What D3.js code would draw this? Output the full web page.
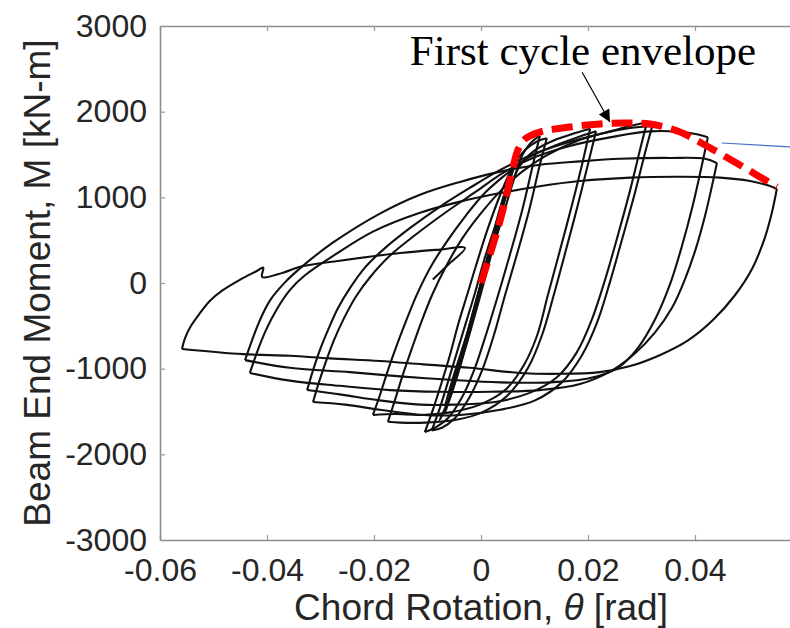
<!DOCTYPE html>
<html>
<head>
<meta charset="utf-8">
<script src="https://cdn.jsdelivr.net/npm/d3@7"></script>
<style>
  html, body { margin: 0; padding: 0; background: #fff; }
  svg { display: block; }
</style>
</head>
<body>
<div id="chart"></div>
<script>
// chord rotation [rad], beam end moment [kN-m]

const xTicks = [-0.06, -0.04, -0.02, 0, 0.02, 0.04];
const yTicks = [-3000, -2000, -1000, 0, 1000, 2000, 3000];

// small elastic cycles
const elasticA = [[0,0],[0.0021,500],[0.0041,970],[0.0058,1320],[0.0045,1030],[0.0024,560],[0.0004,40],[-0.0021,-490],[-0.0043,-960],[-0.0058,-1310],[-0.0039,-900],[-0.0019,-430],[0,0]];
const elasticB = [[0,0],[0.0026,600],[0.0050,1140],[0.0069,1490],[0.0054,1200],[0.0030,640],[0.0007,130],[-0.0017,-410],[-0.0039,-880],[-0.0067,-1420],[-0.0049,-1040],[-0.0024,-550],[0,0]];
const elasticC = [[0,0],[0.0017,390],[0.0036,830],[0.0054,1230],[0.0065,1440],[0.0050,1110],[0.0030,600],[0.0009,90],[-0.0009,-320],[-0.0030,-780],[-0.0052,-1230],[-0.0077,-1600],[-0.0054,-1270],[-0.0034,-810],[-0.0015,-370],[0,0]];
const elasticD = [[0,0],[0.0015,360],[0.0034,790],[0.0049,1140],[0.0036,880],[0.0017,430],[-0.0002,-80],[-0.0021,-550],[-0.0037,-920],[-0.0054,-1270],[-0.0067,-1510],[-0.0047,-1130],[-0.0028,-690],[-0.0009,-260],[0,0]];

// half cycles, in loading order
const push1 = [[0,0],[0.0032,600],[0.0058,1140],[0.0077,1490],[0.0092,1630],[0.0110,1720]];
const pull1 = [[0.0110,1720],[0.0097,1380],[0.0077,850],[0.0054,330],[0.0032,-140],[0.0009,-610],[-0.0013,-1020],[-0.0036,-1340],[-0.0062,-1580],[-0.0086,-1690],[-0.0105,-1740]];
const push2 = [[-0.0105,-1740],[-0.0090,-1480],[-0.0075,-1190],[-0.0058,-840],[-0.0043,-490],[-0.0026,-140],[-0.0007,250],[0.0013,640],[0.0036,1030],[0.0058,1340],[0.0082,1550],[0.0107,1660],[0.0123,1690]];
const pull2 = [[0.0123,1690],[0.0110,1380],[0.0090,850],[0.0067,330],[0.0045,-140],[0.0024,-610],[0.0002,-1020],[-0.0022,-1340],[-0.0049,-1580],[-0.0073,-1690],[-0.0092,-1720]];
const push3 = [[-0.0092,-1720],[-0.0077,-1460],[-0.0062,-1160],[-0.0045,-810],[-0.0028,-460],[-0.0011,-110],[0.0007,290],[0.0028,690],[0.0050,1060],[0.0073,1370],[0.0101,1550],[0.0138,1670],[0.0176,1750],[0.0204,1800]];
const pull3 = [[0.0204,1800],[0.0191,1440],[0.0170,910],[0.0148,390],[0.0125,-140],[0.0105,-610],[0.0080,-960],[0.0045,-1250],[-0.0002,-1420],[-0.0058,-1510],[-0.0114,-1540],[-0.0161,-1530],[-0.0202,-1540]];
const push4 = [[-0.0202,-1540],[-0.0189,-1310],[-0.0174,-1020],[-0.0157,-720],[-0.0138,-410],[-0.0118,-110],[-0.0092,210],[-0.0062,500],[-0.0028,790],[0.0007,1050],[0.0045,1260],[0.0082,1440],[0.0129,1580],[0.0176,1690],[0.0215,1770]];
const pull4 = [[0.0215,1770],[0.0202,1440],[0.0181,910],[0.0159,390],[0.0136,-140],[0.0114,-610],[0.0088,-990],[0.0050,-1310],[0.0002,-1510],[-0.0049,-1600],[-0.0105,-1630],[-0.0151,-1630],[-0.0174,-1620]];
const push5 = [[-0.0174,-1620],[-0.0161,-1370],[-0.0146,-1070],[-0.0129,-760],[-0.0110,-430],[-0.0090,-120],[-0.0064,210],[-0.0034,530],[0.0002,830],[0.0039,1090],[0.0077,1300],[0.0120,1480],[0.0176,1650],[0.0241,1770],[0.0297,1860],[0.0310,1870]];
const pull5 = [[0.0310,1870],[0.0297,1550],[0.0279,1090],[0.0256,560],[0.0232,40],[0.0207,-430],[0.0179,-810],[0.0142,-1100],[0.0092,-1280],[0.0026,-1390],[-0.0049,-1420],[-0.0114,-1420],[-0.0189,-1370],[-0.0264,-1300],[-0.0325,-1250]];
const push6 = [[-0.0325,-1250],[-0.0314,-1020],[-0.0301,-780],[-0.0286,-550],[-0.0267,-290],[-0.0245,-60],[-0.0217,180],[-0.0179,410],[-0.0133,640],[-0.0077,890],[-0.0021,1110],[0.0036,1320],[0.0092,1490],[0.0157,1630],[0.0222,1740],[0.0279,1810],[0.0320,1830]];
const pull6 = [[0.0320,1830],[0.0307,1530],[0.0288,1060],[0.0265,540],[0.0241,10],[0.0217,-460],[0.0189,-840],[0.0151,-1160],[0.0101,-1370],[0.0036,-1480],[-0.0039,-1540],[-0.0108,-1540],[-0.0189,-1480],[-0.0254,-1420],[-0.0314,-1390]];
const push7 = [[-0.0314,-1390],[-0.0303,-1160],[-0.0290,-920],[-0.0275,-670],[-0.0256,-410],[-0.0234,-160],[-0.0207,70],[-0.0170,320],[-0.0123,560],[-0.0067,820],[-0.0011,1060],[0.0045,1300],[0.0101,1470],[0.0166,1600],[0.0241,1700],[0.0316,1770],[0.0391,1750],[0.0424,1700]];
const pull7 = [[0.0424,1700],[0.0413,1380],[0.0396,910],[0.0376,440],[0.0353,-20],[0.0325,-430],[0.0293,-760],[0.0256,-990],[0.0204,-1110],[0.0129,-1160],[0.0036,-1160],[-0.0058,-1130],[-0.0151,-1090],[-0.0245,-1040],[-0.0357,-990],[-0.0441,-900]];
const push8 = [[-0.0441,-900],[-0.0428,-670],[-0.0413,-430],[-0.0394,-200],[-0.0366,10],[-0.0333,200],[-0.0277,470],[-0.0189,810],[-0.0114,1030],[-0.0039,1180],[0.0036,1300],[0.0110,1380],[0.0185,1420],[0.0260,1450],[0.0353,1460],[0.0419,1450],[0.0441,1400]];
const pull8 = [[0.0441,1400],[0.0432,1140],[0.0419,790],[0.0402,410],[0.0381,40],[0.0357,-290],[0.0325,-580],[0.0288,-820],[0.0245,-1020],[0.0185,-1180],[0.0110,-1250],[0.0017,-1270],[-0.0077,-1270],[-0.0170,-1250],[-0.0264,-1200],[-0.0357,-1140],[-0.0432,-1050]];
const push9 = [[-0.0432,-1050],[-0.0417,-780],[-0.0402,-550],[-0.0383,-320],[-0.0357,-80],[-0.0329,90],[-0.0273,330],[-0.0202,600],[-0.0114,820],[-0.0039,950],[0.0036,1050],[0.0110,1130],[0.0185,1190],[0.0279,1230],[0.0372,1240],[0.0447,1230],[0.0503,1190],[0.0536,1140],[0.0553,1100]];
const pull9 = [[0.0553,1100],[0.0544,830],[0.0529,500],[0.0507,170],[0.0475,-140],[0.0434,-430],[0.0387,-670],[0.0335,-840],[0.0279,-970],[0.0222,-1040],[0.0148,-1060],[0.0073,-1050],[-0.0021,-990],[-0.0108,-950],[-0.0189,-910],[-0.0282,-880],[-0.0357,-850],[-0.0445,-830],[-0.0559,-770]];
const finalPush = [[-0.0559,-770],[-0.0553,-640],[-0.0542,-500],[-0.0525,-350],[-0.0507,-210],[-0.0484,-90],[-0.0450,40],[-0.0419,140],[-0.0407,180],[-0.0409,70],[-0.0370,120],[-0.0338,190],[-0.0264,260],[-0.0151,350],[-0.0077,390],[-0.0030,410],[-0.0062,210],[-0.0090,40]];

// first cycle envelope (red dashed)
const envelope = [[0,0],[0.0036,735],[0.0060,1354],[0.0069,1552],[0.0082,1680],[0.0110,1762],[0.0166,1821],[0.0222,1856],[0.0269,1867],[0.0316,1856],[0.0372,1762],[0.0422,1599],[0.0484,1377],[0.0553,1120]];

const loops = [elasticA, elasticB, elasticC, elasticD,
  push1, pull1, push2, pull2, push3, pull3, push4, pull4, push5, pull5,
  push6, pull6, push7, pull7, push8, pull8, push9, pull9, finalPush];

const width = 790, height = 628;

const svg = d3.select("#chart")
  .append("svg")
  .attr("width", width)
  .attr("height", height);

const x = d3.scaleLinear().domain([-0.06, 0.06]).range([160, 802]);
const y = d3.scaleLinear().domain([-3000, 3000]).range([540, 26]);

const defs = svg.append("defs");
defs.append("clipPath").attr("id", "plotClip")
  .append("rect")
  .attr("x", 160).attr("y", 26)
  .attr("width", 642).attr("height", 514);

defs.append("marker")
  .attr("id", "arrowHead")
  .attr("viewBox", "0 0 10 10")
  .attr("refX", 10).attr("refY", 5)
  .attr("markerWidth", 15).attr("markerHeight", 12)
  .attr("markerUnits", "userSpaceOnUse")
  .attr("orient", "auto")
  .append("path")
  .attr("d", "M0,0 L10,5 L0,10 z")
  .attr("fill", "#000");

const fmt = d => String(d);
const tickFont = "'Liberation Sans', Arial, Helvetica, sans-serif";

// Axes (ticks inside, like MATLAB)
const gx = svg.append("g")
  .attr("transform", `translate(0,${y(-3000)})`)
  .call(d3.axisBottom(x).tickValues(xTicks).tickFormat(fmt)
    .tickSizeInner(-5).tickSizeOuter(0).tickPadding(18));

const gTop = svg.append("g")
  .attr("transform", `translate(0,${y(3000)})`)
  .call(d3.axisTop(x).tickValues(xTicks).tickFormat("")
    .tickSizeInner(-5).tickSizeOuter(0));

const gy = svg.append("g")
  .attr("transform", `translate(${x(-0.06)},0)`)
  .call(d3.axisLeft(y).tickValues(yTicks).tickFormat(fmt)
    .tickSizeInner(-5).tickSizeOuter(0).tickPadding(13));

[gx, gTop, gy].forEach(g => {
  g.attr("font-size", 32).attr("font-family", tickFont);
  g.select(".domain").attr("stroke", "#8c8c8c").attr("stroke-width", 1.6);
  g.selectAll(".tick line").attr("stroke", "#9a9a9a").attr("stroke-width", 1.2);
  g.selectAll(".tick text").attr("fill", "#262626");
});

// Axis labels
svg.append("text")
  .attr("x", (x(-0.06) + x(0.06)) / 2)
  .attr("y", 620)
  .attr("text-anchor", "middle")
  .attr("font-family", tickFont)
  .attr("font-size", 37)
  .attr("fill", "#262626")
  .call(t => {
    t.append("tspan").text("Chord Rotation, ");
    t.append("tspan").attr("font-style", "italic").text("θ");
    t.append("tspan").text(" [rad]");
  });

svg.append("text")
  .attr("transform", "rotate(-90)")
  .attr("x", -(y(3000) + y(-3000)) / 2)
  .attr("y", 50)
  .attr("text-anchor", "middle")
  .attr("font-family", tickFont)
  .attr("font-size", 37)
  .attr("fill", "#262626")
  .text("Beam End Moment, M [kN-m]");

// Hysteresis loops
const line = d3.line()
  .x(d => x(d[0]))
  .y(d => y(d[1]))
  .curve(d3.curveCatmullRom.alpha(0.5));

const plot = svg.append("g").attr("clip-path", "url(#plotClip)");

plot.selectAll("path.loop")
  .data(loops)
  .join("path")
  .attr("class", "loop")
  .attr("d", line)
  .attr("fill", "none")
  .attr("stroke", "#111")
  .attr("stroke-width", 2.1)
  .attr("stroke-linejoin", "round");

// Envelope
plot.append("path")
  .datum(envelope)
  .attr("d", line)
  .attr("fill", "none")
  .attr("stroke", "#ff0000")
  .attr("stroke-width", 7)
  .attr("stroke-dasharray", "21,9");

// Annotation
const labelAt = [-0.0133, 2540];
const arrowFrom = [0.0189, 2460];
const arrowTo = [0.0241, 1880];
const blueFrom = [0.0450, 1634];
const blueTo = [0.0600, 1580];

svg.append("text")
  .attr("x", x(labelAt[0]))
  .attr("y", y(labelAt[1]))
  .attr("font-family", "'Liberation Serif', 'Times New Roman', serif")
  .attr("font-size", 43)
  .attr("fill", "#000")
  .text("First cycle envelope");

svg.append("line")
  .attr("x1", x(arrowFrom[0])).attr("y1", y(arrowFrom[1]))
  .attr("x2", x(arrowTo[0])).attr("y2", y(arrowTo[1]))
  .attr("stroke", "#000")
  .attr("stroke-width", 1.2)
  .attr("marker-end", "url(#arrowHead)");

svg.append("line")
  .attr("x1", x(blueFrom[0])).attr("y1", y(blueFrom[1]))
  .attr("x2", x(blueTo[0])).attr("y2", y(blueTo[1]))
  .attr("stroke", "#4472c4")
  .attr("stroke-width", 1.2);
</script>
</body>
</html>
